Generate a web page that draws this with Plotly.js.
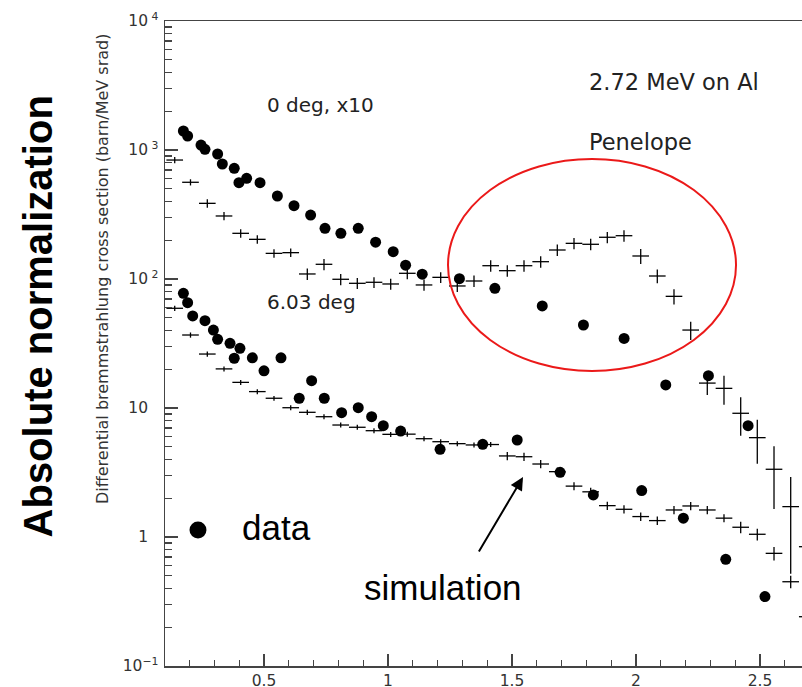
<!DOCTYPE html>
<html>
<head>
<meta charset="utf-8">
<script src="https://cdn.plot.ly/plotly-3.0.1.min.js"></script>
<style>html,body{margin:0;padding:0;overflow:hidden;background:#fff}</style>
</head>
<body>
<div id="chart" style="width:820px;height:687px"></div>
<script>
// ---- Data ----
// Measured data, 0 deg (x10)
const data0X = [0.175,0.192,0.246,0.262,0.313,0.332,0.380,0.399,0.430,0.484,0.554,0.621,0.688,0.746,0.810,0.880,0.950,1.021,1.071,1.138,1.288,1.431,1.622,1.788,1.952,2.120,2.292,2.452];
const data0Y = [1404,1284,1093,1012,931,779,721,558,603,558,440,370,313,247,226,247,193,163,128,109,100.5,84.7,61.8,44.0,34.6,15.1,17.8,7.29];
// Measured data, 6.03 deg
const data6X = [0.175,0.192,0.2125,0.262,0.296,0.313,0.363,0.380,0.403,0.453,0.500,0.5685,0.642,0.692,0.743,0.813,0.880,0.934,0.981,1.051,1.210,1.382,1.521,1.694,1.828,2.023,2.191,2.362,2.520];
const data6Y = [77.5,65.5,51.7,47.5,40.2,34.1,31.7,24.3,29.0,24.5,19.4,24.5,11.9,16.3,11.9,9.2,10.05,8.56,7.29,6.63,4.78,5.23,5.65,3.17,2.12,2.29,1.40,0.672,0.345];
// Simulation (Penelope) bin centres
const simX = [0.140,0.2036,0.2714,0.3387,0.4060,0.4730,0.5403,0.6077,0.6746,0.7419,0.8093,0.8762,0.9435,1.0109,1.0778,1.1452,1.2125,1.2794,1.3468,1.4141,1.4810,1.5484,1.6157,1.6827,1.7500,1.8173,1.8843,1.9516,2.0190,2.0859,2.1532,2.2206,2.2875,2.3548,2.4222,2.4891,2.5565,2.6238,2.6907];
const sim0Y = [836,562,386,308,226,203,158,160,109.4,130,99.5,92.6,94.3,91.5,110.7,89.9,103,88.3,96.5,126.8,116,126.8,136.2,167.8,189,185.8,210.6,216.6,150.8,105.5,73.4,40.2,15.6,14.2,9.10,5.89,3.35,1.72,0.841];
const sim0Err = [46,31,29,23,17,15,12,12,11,13,10,9,9,9,11,9,10,9,10,13,12,13,14,17,19,19,21,22,20,13,10,6.5,3.0,3.6,3.0,2.2,1.7,1.2,0.5];
const sim6Y = [59.3,36.8,26.2,20.1,15.8,13.4,11.9,10.05,9.26,8.56,7.38,7.09,6.67,6.25,6.27,5.78,5.48,5.29,5.17,5.21,4.25,4.19,3.68,3.21,2.48,2.24,1.75,1.64,1.44,1.34,1.62,1.74,1.62,1.40,1.19,1.05,0.747,0.450,0.241];
const sim6Err = [2.7,1.7,1.2,0.9,0.7,0.6,0.5,0.45,0.42,0.39,0.33,0.32,0.30,0.28,0.28,0.26,0.25,0.24,0.23,0.23,0.31,0.31,0.27,0.24,0.18,0.17,0.13,0.12,0.11,0.10,0.12,0.13,0.12,0.10,0.12,0.11,0.09,0.05,0.04];
// Tick labels
const xTickVals = [0.5,1,1.5,2,2.5];
const xTickText = ['0.5','1','1.5','2','2.5'];
const pad = '<span style="color:rgba(0,0,0,0)"><sup> 0</sup></span>';
const yTickVals = [0.1,1,10,100,1000,10000];
const yTickText = ['10<sup>\u22121</sup>','1'+pad,'10'+pad,'10<sup> 2</sup>','10<sup> 3</sup>','10<sup> 4</sup>'];

// minor tick positions (styling)
const xMinor = [];
for (let k = 1; k <= 27; k++) { if (k % 5 !== 0) xMinor.push(k/10); }
const yMinor = [];
for (let e = -1; e < 4; e++) { for (let d = 2; d <= 9; d++) yMinor.push(d*Math.pow(10,e)); }

const BIN_HALF = 0.0336;
const ink = '#000';
function simTrace(y, err) {
  return {
    x: simX, y: y, type: 'scatter', mode: 'markers',
    marker: {size: 2, color: 'rgba(0,0,0,0)'},
    error_x: {type: 'constant', value: BIN_HALF, width: 0, thickness: 1.3, color: ink},
    error_y: {type: 'data', array: err, width: 0, thickness: 1.3, color: ink},
    hoverinfo: 'skip'
  };
}
function dataTrace(x, y) {
  return {x: x, y: y, type: 'scatter', mode: 'markers',
    marker: {size: 11, color: ink, line: {width: 0}}};
}
const traces = [simTrace(sim0Y, sim0Err), simTrace(sim6Y, sim6Err), dataTrace(data0X, data0Y), dataTrace(data6X, data6Y)];

const axCol = '#444';
const tickFont = {family: 'DejaVu Sans', size: 15.5, color: '#333'};
const layout = {
  width: 820, height: 687,
  margin: {l: 165, r: 5, t: 21, b: 21},
  paper_bgcolor: '#fff', plot_bgcolor: '#fff',
  showlegend: false,
  font: {family: 'DejaVu Sans', color: '#222'},
  xaxis: {
    range: [0.1008, 2.7218], tickmode: 'array', tickvals: xTickVals, ticktext: xTickText,
    ticks: 'inside', ticklen: 12, tickwidth: 1.3, tickcolor: axCol,
    showline: true, linecolor: axCol, linewidth: 1.5, mirror: true,
    showgrid: false, zeroline: false, tickfont: tickFont, ticklabelstandoff: 0,
    minor: {tickmode: 'array', tickvals: xMinor, ticks: 'inside', ticklen: 6, tickwidth: 1.3, tickcolor: axCol, showgrid: false}
  },
  yaxis: {
    type: 'log', range: [-1, 4], tickmode: 'array', tickvals: yTickVals, ticktext: yTickText,
    ticks: 'inside', ticklen: 13, tickwidth: 1.3, tickcolor: axCol,
    showline: true, linecolor: axCol, linewidth: 1.5, mirror: true,
    showgrid: false, zeroline: false, tickfont: tickFont, ticklabelstandoff: 2,
    minor: {tickmode: 'array', tickvals: yMinor, ticks: 'inside', ticklen: 7, tickwidth: 1.3, tickcolor: axCol, showgrid: false}
  },
  shapes: [
    {type: 'circle', xref: 'paper', yref: 'paper', x0: 0.4354, x1: 0.8785, y0: 0.4574, y1: 0.7860,
     line: {color: 'rgb(235,25,25)', width: 2}},
    {type: 'circle', xref: 'paper', yref: 'paper', x0: 0.0377, x1: 0.0638, y0: 0.1977, y1: 0.2240,
     fillcolor: '#000', line: {width: 0}}
  ],
  annotations: [
    {xref: 'paper', yref: 'paper', x: -0.0969, y: 0.6155, text: 'Differential bremmstrahlung cross section (barn/MeV srad)',
     textangle: -90, showarrow: false, xanchor: 'center', yanchor: 'middle', font: {family: 'DejaVu Sans', size: 16, color: '#333'}},
    {xref: 'paper', yref: 'paper', x: -0.1954, y: 0.5420, text: '<b>Absolute normalization</b>',
     textangle: -90, showarrow: false, xanchor: 'center', yanchor: 'middle', font: {family: 'Liberation Sans', size: 40, color: '#000'}},
    {xref: 'paper', yref: 'paper', x: 0.1538, y: 0.869, text: '0 deg, x10', showarrow: false, xanchor: 'left', yanchor: 'middle',
     font: {family: 'DejaVu Sans', size: 20, color: '#222'}},
    {xref: 'paper', yref: 'paper', x: 0.1538, y: 0.5651, text: '6.03 deg', showarrow: false, xanchor: 'left', yanchor: 'middle',
     font: {family: 'DejaVu Sans', size: 20, color: '#222'}},
    {xref: 'paper', yref: 'paper', x: 0.6492, y: 0.9062, text: '2.72 MeV on Al', showarrow: false, xanchor: 'left', yanchor: 'middle',
     font: {family: 'DejaVu Sans', size: 22.5, color: '#222'}},
    {xref: 'paper', yref: 'paper', x: 0.6492, y: 0.8124, text: 'Penelope', showarrow: false, xanchor: 'left', yanchor: 'middle',
     font: {family: 'DejaVu Sans', size: 22.5, color: '#222'}},
    {xref: 'paper', yref: 'paper', x: 0.1154, y: 0.214, text: 'data', showarrow: false, xanchor: 'left', yanchor: 'middle',
     font: {family: 'Liberation Sans', size: 35, color: '#000'}},
    {xref: 'paper', yref: 'paper', x: 0.3031, y: 0.121, text: 'simulation', showarrow: false, xanchor: 'left', yanchor: 'middle',
     font: {family: 'Liberation Sans', size: 35, color: '#000'}},
    {xref: 'paper', yref: 'paper', x: 0.5508, y: 0.2930, text: '', showarrow: true, ax: -45, ay: 76,
     arrowhead: 2, arrowsize: 1.3, arrowwidth: 2, arrowcolor: '#000', standoff: 0}
  ]
};
Plotly.newPlot('chart', traces, layout, {displayModeBar: false, staticPlot: true});
</script>
</body>
</html>
